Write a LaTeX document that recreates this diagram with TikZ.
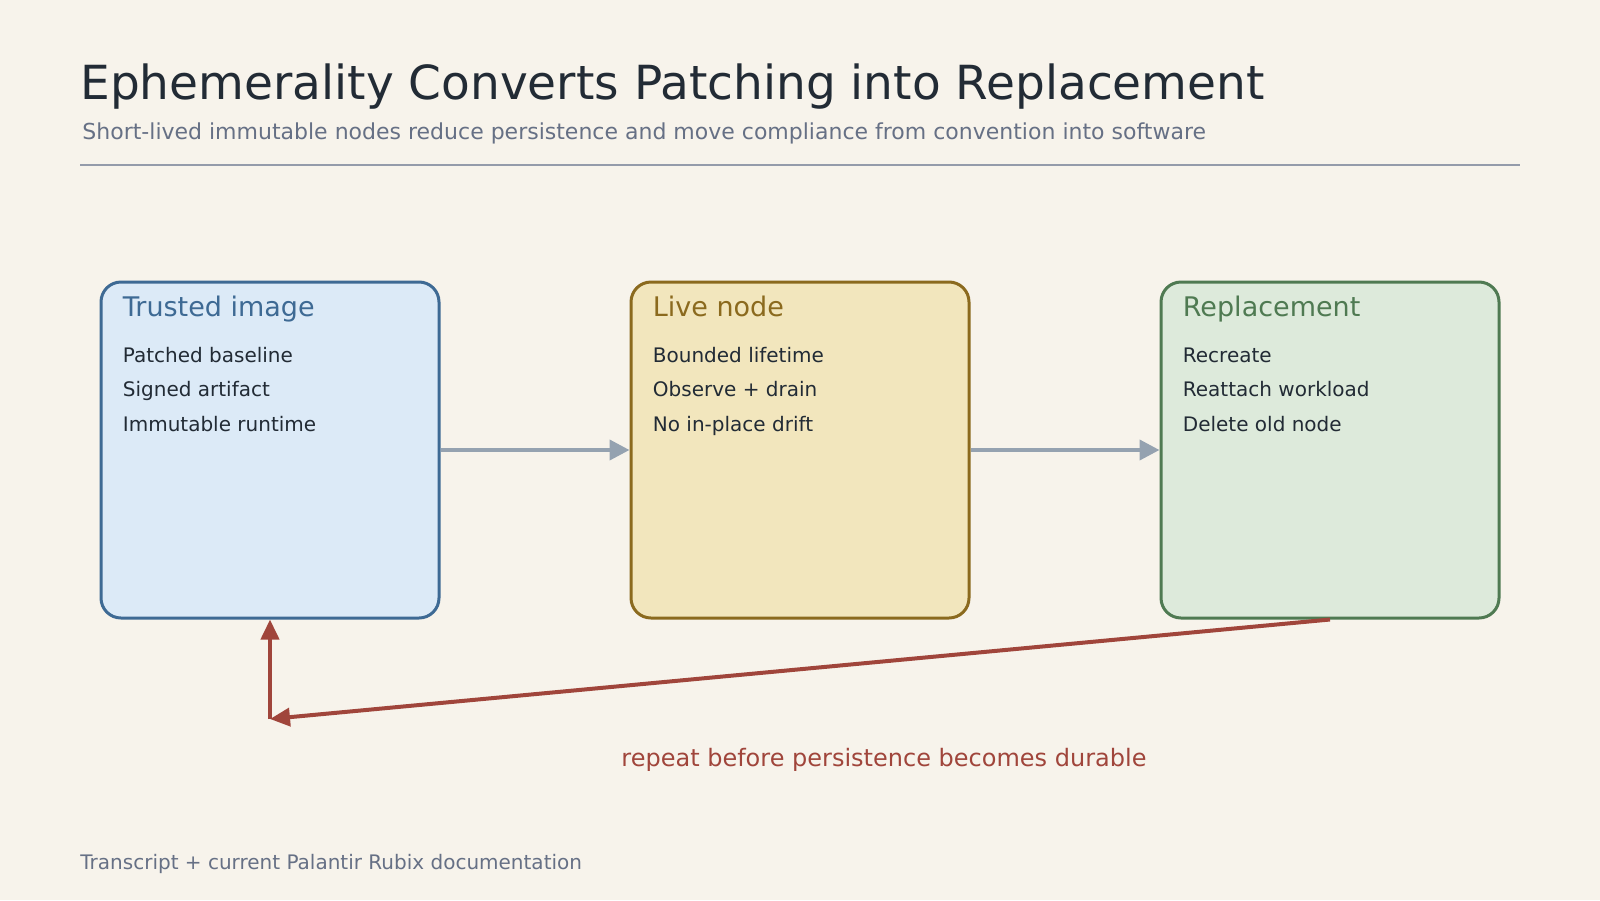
\documentclass[tikz,border=0pt]{standalone}
\usepackage{fontspec}
\setmainfont{DejaVu Sans}
\usetikzlibrary{positioning,arrows.meta}
\definecolor{bg}{HTML}{F7F3EB}
\definecolor{ink}{HTML}{222B35}
\definecolor{muted}{HTML}{667085}
\definecolor{blueline}{HTML}{3E6A94}
\definecolor{bluefill}{HTML}{DCEAF7}
\definecolor{goldline}{HTML}{8B6A1E}
\definecolor{goldfill}{HTML}{F2E6BD}
\definecolor{greenline}{HTML}{4F7A52}
\definecolor{greenfill}{HTML}{DDEADB}
\definecolor{loopred}{HTML}{A0453B}
\definecolor{flowgray}{HTML}{95A2B0}
\tikzset{
  stage/.style={draw, line width=1.5pt, rounded corners=10pt, minimum width=169pt, minimum height=168pt},
  head/.style={anchor=base west, inner sep=0pt, font=\fontsize{13.5pt}{15pt}\selectfont},
  item/.style={anchor=base west, inner sep=0pt, text=ink, font=\fontsize{10pt}{12pt}\selectfont},
  flow/.style={-{Triangle[length=10pt,width=10pt]}, line width=2pt, flowgray},
  loop/.style={-{Triangle[length=10pt,width=9pt]}, line width=2pt, loopred}
}
\begin{document}
\begin{tikzpicture}[x=0.5pt,y=-0.5pt]
\fill[bg] (0,0) rectangle (1600,900);
\useasboundingbox (0,0) rectangle (1600,900);
% header
\node[anchor=base west, inner sep=0pt, text=ink, font=\fontsize{23.5pt}{27pt}\selectfont] (title) at (80,99) {Ephemerality Converts Patching into Replacement};
\node[anchor=base west, inner sep=0pt, text=muted, font=\fontsize{11pt}{13pt}\selectfont] (subtitle) at (82,139) {Short-lived immutable nodes reduce persistence and move compliance from convention into software};
\draw[muted!70, line width=0.7pt] (80,165) -- (1520,165);
% stages
\node[stage, draw=blueline, fill=bluefill] (image) at (270,450) {};
\node[stage, draw=goldline, fill=goldfill] (live) at (800,450) {};
\node[stage, draw=greenline, fill=greenfill] (repl) at (1330,450) {};
\foreach \b/\t/\c/\i/\j/\k in {image/Trusted image/blueline/Patched baseline/Signed artifact/Immutable runtime,
  live/Live node/goldline/Bounded lifetime/Observe + drain/No in-place drift,
  repl/Replacement/greenline/Recreate/Reattach workload/Delete old node}{
  \node[head, text=\c] at ([xshift=11.5pt,yshift=-18pt]\b.north west) {\t};
  \node[item] at ([xshift=11.5pt,yshift=-41pt]\b.north west) {\i};
  \node[item] at ([xshift=11.5pt,yshift=-58pt]\b.north west) {\j};
  \node[item] at ([xshift=11.5pt,yshift=-75.5pt]\b.north west) {\k};
}
% connectors
\draw[flow] (image) -- (live);
\draw[flow] (live) -- (repl);
\coordinate (back) at (270,719);
\draw[loop] (repl.south) -- (back);
\draw[loop] (back) -- (image.south);
\node[text=loopred, font=\fontsize{12pt}{14pt}\selectfont] (note) at (884,760) {repeat before persistence becomes durable};
% footer
\node[anchor=base west, inner sep=0pt, text=muted, font=\fontsize{10pt}{12pt}\selectfont] (source) at (80,869) {Transcript + current Palantir Rubix documentation};
\end{tikzpicture}
\end{document}
